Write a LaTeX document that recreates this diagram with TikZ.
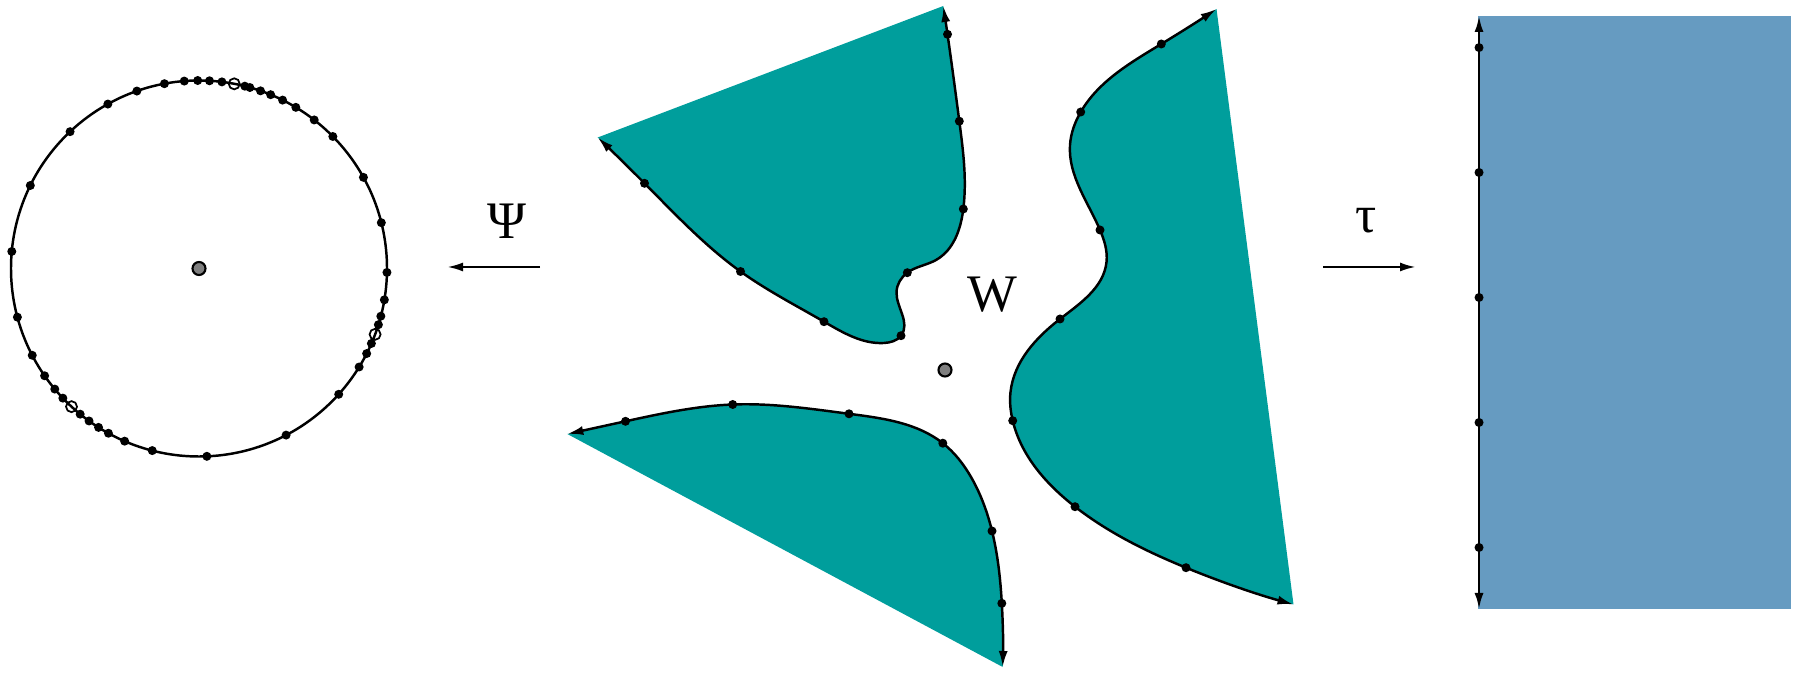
\documentclass[tikz,border=0pt]{standalone}
\usepackage{fontspec}
\setmainfont{Liberation Serif}
\usepackage{tikz}
\usetikzlibrary{arrows.meta,calc,hobby}
\definecolor{lagoon}{HTML}{009E9C}
\definecolor{steel}{HTML}{669BC1}
\definecolor{pebble}{HTML}{7F7F7F}
\tikzset{
  bdot/.style={circle, fill=black, inner sep=0pt, minimum size=0.09cm},
  opendot/.style={circle, draw=black, line width=0.5pt, inner sep=0pt, minimum size=0.11cm},
  hub/.style={circle, draw=black, fill=pebble, line width=0.6pt, inner sep=0pt, minimum size=0.13cm},
  rimline/.style={line width=0.7pt,
    {Latex[length=1.6mm,width=0.9mm]}-{Latex[length=1.6mm,width=0.9mm]}},
  maparrow/.style={line width=0.7pt, -{Latex[length=1.6mm,width=0.9mm]}},
  maplabel/.style={font=\fontsize{15}{18}\selectfont, inner sep=0pt},
  lobe/.style={fill=lagoon},
}

\begin{document}
\begin{tikzpicture}[x=0.01cm, y=-0.01cm, use Hobby shortcut]
  \useasboundingbox (0,0) rectangle (1795,674);

  % Disc
  \coordinate (ctr) at (199,268.5);
  \draw[line width=0.7pt] (ctr) circle[radius=188];
  \node[hub] (c0) at (ctr) {};
  \foreach \a [count=\i] in {100.6,94.5,90.4,86.8,83.0,75.9,74.3,70.9,67.6,63.6,
      59.0,52.2,44.6,29.0,14.1,-1.2,-9.6,-14.7,-17.4,-23.5,-26.9,-31.6,-42.0,
      -62.4,-87.6,-104.4,-113.3,-118.8,-122.3,-125.8,-129.2,-136.4,-140.1,
      -145.2,-152.5,-165.0,174.8,153.8,133.3,119.0,109.3}
    \node[bdot] (c\i) at ($(ctr)+({-1*(\a)}:188)$) {};
  \foreach \a [count=\i] in {79.2,-20.5,-132.7}
    \node[opendot] (o\i) at ($(ctr)+({-1*(\a)}:188)$) {};

  % Psi
  \coordinate (psiR) at (540,267);
  \coordinate (psiL) at (447,267);
  \draw[maparrow] (psiR) -- (psiL);
  \node[maplabel] (psi) at (507,221) {Ψ};

  % W
  \node[maplabel] (wlab) at (992,294.5) {W};
  \node[hub] (w0) at (945,370) {};

  % Upper lobe
  \coordinate (ua) at (943.3,6);
  \coordinate (ub) at (597.7,137.5);
  \coordinate (u1) at (644.5,183.3);
  \coordinate (u2) at (740.5,271.5);
  \coordinate (u3) at (824,321.7);
  \coordinate (ux1) at (884,343);
  \coordinate (u4) at (901,335.7);
  \coordinate (ux2) at (896.5,292);
  \coordinate (u5) at (907.3,272.7);
  \coordinate (ux3) at (936,260);
  \coordinate (u6) at (963.3,209);
  \coordinate (u7) at (959.3,121.2);
  \coordinate (u8) at (947.5,34.3);
  \fill[lobe] (ub) .. (u1) .. (u2) .. (u3) .. (ux1) .. (u4) .. (ux2) .. (u5)
    .. (ux3) .. (u6) .. (u7) .. (u8) .. (ua) -- cycle;
  \draw[rimline] (ub) .. (u1) .. (u2) .. (u3) .. (ux1) .. (u4) .. (ux2) .. (u5)
    .. (ux3) .. (u6) .. (u7) .. (u8) .. (ua);
  \foreach \p in {u1,u2,u3,u4,u5,u6,u7,u8}
    \node[bdot] (d\p) at (\p) {};

  % Lower lobe
  \coordinate (lc) at (567.3,434);
  \coordinate (ld) at (1002.7,667);
  \coordinate (l1) at (625.5,421.3);
  \coordinate (l2) at (732.7,404.5);
  \coordinate (l3) at (849,413.8);
  \coordinate (l4) at (942.8,443.2);
  \coordinate (lx1) at (971,477);
  \coordinate (l5) at (992,531);
  \coordinate (l6) at (1001.8,603.3);
  \fill[lobe] (lc) .. (l1) .. (l2) .. (l3) .. (l4) .. (lx1) .. (l5) .. (l6)
    .. (ld) -- cycle;
  \draw[rimline] (lc) .. (l1) .. (l2) .. (l3) .. (l4) .. (lx1) .. (l5) .. (l6)
    .. (ld);
  \foreach \p in {l1,l2,l3,l4,l5,l6}
    \node[bdot] (d\p) at (\p) {};

  % Right lobe
  \coordinate (re) at (1216.5,9);
  \coordinate (rf) at (1293.5,604.5);
  \coordinate (r1) at (1161.3,44);
  \coordinate (r2) at (1080.7,112);
  \coordinate (rx1) at (1070,145);
  \coordinate (r3) at (1100,230);
  \coordinate (rx2) at (1106.5,262);
  \coordinate (r4) at (1060,319);
  \coordinate (rx3) at (1010.5,392);
  \coordinate (r5) at (1012.7,420.7);
  \coordinate (r6) at (1075,506.7);
  \coordinate (r7) at (1186,567.7);
  \fill[lobe] (re) .. (r1) .. (r2) .. (rx1) .. (r3) .. (rx2) .. (r4) .. (rx3)
    .. (r5) .. (r6) .. (r7) .. (rf) -- cycle;
  \draw[rimline] (re) .. (r1) .. (r2) .. (rx1) .. (r3) .. (rx2) .. (r4) .. (rx3)
    .. (r5) .. (r6) .. (r7) .. (rf);
  \foreach \p in {r1,r2,r3,r4,r5,r6,r7}
    \node[bdot] (d\p) at (\p) {};

  % tau
  \coordinate (tauL) at (1323,267);
  \coordinate (tauR) at (1416,267);
  \draw[maparrow] (tauL) -- (tauR);
  \node[maplabel] (tau) at (1366,221) {τ};

  % Half-plane
  \fill[steel] (1478,16) rectangle (1791,609);
  \coordinate (ht) at (1479,16);
  \coordinate (hb) at (1479,609);
  \draw[rimline] (hb) -- (ht);
  \foreach \y [count=\i] in {47.6,172.5,297.5,422.5,547.5}
    \node[bdot] (h\i) at (1479,\y) {};
\end{tikzpicture}
\end{document}
